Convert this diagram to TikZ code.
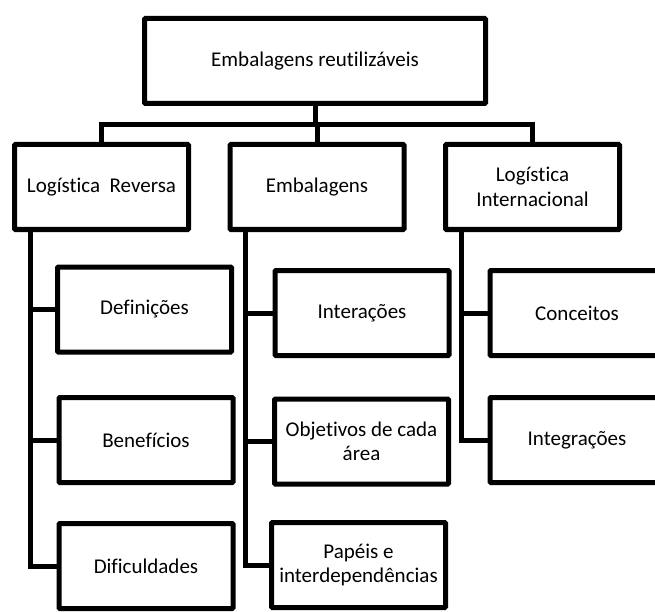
\documentclass[tikz,border=0pt]{standalone}
\usepackage{fontspec}
\setmainfont{Carlito}[Ligatures={NoCommon}]
\begin{document}
\begin{tikzpicture}[x=1pt,y=-1pt,
  box/.style={draw, line width=5pt, rounded corners=1pt, align=center,
    font=\fontsize{21}{24.5}\selectfont, inner sep=0pt,
    minimum width=174pt, minimum height=85pt},
  conn/.style={line width=5pt}]
\useasboundingbox (0,0) rectangle (655,612);
% root
\node[box, minimum width=341pt] (top) at (315,61) {Embalagens reutilizáveis};
% level 1
\node[box] (lr) at (101.5,187) {Logística\ \ Reversa};
\node[box] (emb) at (317,187) {Embalagens};
\node[box] (li) at (532.5,187) {Logística\\Internacional};
% children of Logística Reversa
\node[box] (def) at (144.5,309.5) {Definições};
\node[box] (ben) at (146,440) {Benefícios};
\node[box] (dif) at (146,566) {Dificuldades};
% children of Embalagens
\node[box] (int) at (362,313) {Interações};
\node[box] (obj) at (361.5,441.5) {Objetivos de cada\\área};
\node[box] (pap) at (358.5,565) {Papéis e\\interdependências};
% children of Logística Internacional
\node[box] (con) at (577,313) {Conceitos};
\node[box] (itg) at (577,440) {Integrações};
% connectors
\coordinate (j) at (315,125);
\draw[conn] (top.south) -- (j);
\draw[conn] (lr.north) |- (j) -| (li.north);
\draw[conn] (j) -| (emb.north);
\coordinate (lrs) at ([xshift=18pt]lr.south west);
\coordinate (embs) at ([xshift=18pt]emb.south west);
\coordinate (lis) at ([xshift=18pt]li.south west);
\draw[conn] (lrs) |- (dif.west);
\draw[conn] (lrs |- def.west) -- (def.west);
\draw[conn] (lrs |- ben.west) -- (ben.west);
\draw[conn] (embs) |- (pap.west);
\draw[conn] (embs |- int.west) -- (int.west);
\draw[conn] (embs |- obj.west) -- (obj.west);
\draw[conn] (lis) |- (itg.west);
\draw[conn] (lis |- con.west) -- (con.west);
\end{tikzpicture}
\end{document}
